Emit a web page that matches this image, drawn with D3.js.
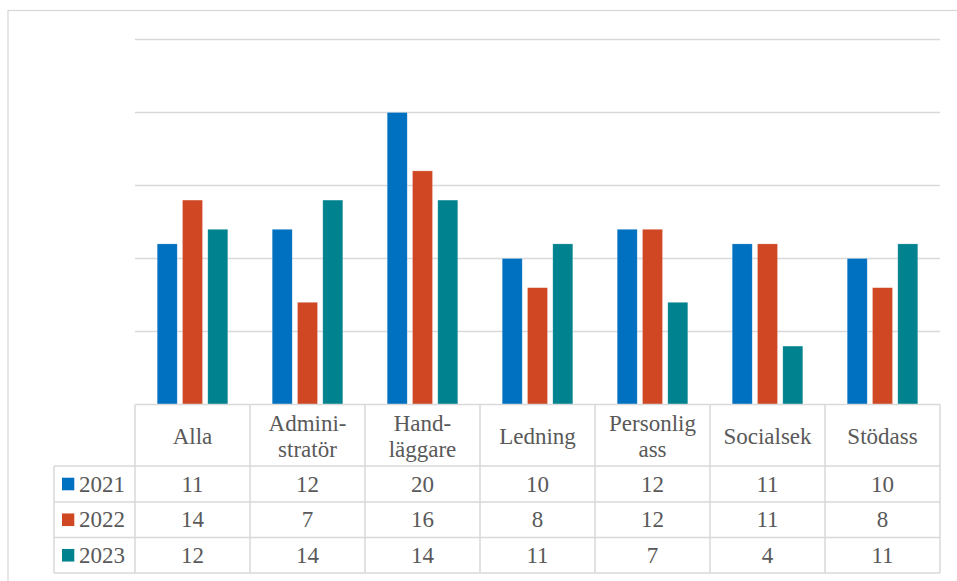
<!DOCTYPE html>
<html>
<head>
<meta charset="utf-8">
<script src="https://cdn.jsdelivr.net/npm/d3@7/dist/d3.min.js"></script>
<style>
  html, body { margin: 0; padding: 0; background: #fff; }
  svg { display: block; }
  svg text { font-family: "Liberation Serif", "DejaVu Serif", serif; }
</style>
</head>
<body>
<svg id="chart" width="957" height="581"></svg>
<script>
// Categories as shown in the data table header (line-broken labels)
const categories = ["Alla", "Administratör", "Handläggare", "Ledning", "Personlig ass", "Socialsek", "Stödass"];
const categoryLines = [["Alla"], ["Admini-", "stratör"], ["Hand-", "läggare"], ["Ledning"], ["Personlig", "ass"], ["Socialsek"], ["Stödass"]];
const seriesNames = ["2021", "2022", "2023"];
const values2021 = [11, 12, 20, 10, 12, 11, 10];
const values2022 = [14, 7, 16, 8, 12, 11, 8];
const values2023 = [12, 14, 14, 11, 7, 4, 11];
const yTicks = [0, 5, 10, 15, 20, 25];
const colors = ["#0070c0", "#d04823", "#00838f"];

const seriesValues = [values2021, values2022, values2023];
const svg = d3.select("#chart");
const textColor = "#595959";
const lineColor = "#d9d9d9";

// Outer chart frame
svg.append("rect")
  .attr("x", 8).attr("y", 10.5)
  .attr("width", 1000).attr("height", 700)
  .attr("fill", "none").attr("stroke", lineColor).attr("stroke-width", 1.3);

const plotLeft = 135, plotRight = 940;
const y = d3.scaleLinear().domain([0, 25]).range([404.5, 39.5]);
const x = d3.scaleBand().domain(categories).range([plotLeft, plotRight]).paddingInner(0).paddingOuter(0);
const xs = d3.scaleBand().domain(seriesNames).range([0, x.bandwidth()]).paddingInner(0.21).paddingOuter(0.878);

// Horizontal gridlines
svg.append("g").selectAll("line")
  .data(yTicks.filter(t => t > 0))
  .join("line")
  .attr("x1", plotLeft).attr("x2", plotRight)
  .attr("y1", d => y(d)).attr("y2", d => y(d))
  .attr("stroke", lineColor).attr("stroke-width", 1.3);

// Bars
const groups = svg.append("g").selectAll("g")
  .data(categories)
  .join("g")
  .attr("transform", d => `translate(${x(d)},0)`);

groups.selectAll("rect")
  .data((d, i) => seriesNames.map((s, j) => ({ s, j, v: seriesValues[j][i] })))
  .join("rect")
  .attr("x", d => xs(d.s))
  .attr("width", xs.bandwidth())
  .attr("y", d => y(d.v))
  .attr("height", d => y(0) - y(d.v))
  .attr("fill", d => colors[d.j])
  .attr("stroke", "#ffffff").attr("stroke-opacity", 0.35).attr("stroke-width", 0.6);

// Data table
const rowEdges = [404.5, 466, 502, 537.5, 573];
const legendLeft = 54;
const table = svg.append("g").attr("stroke", lineColor).attr("stroke-width", 1.5).attr("fill", "none");

// Horizontal table lines
table.append("line").attr("x1", plotLeft).attr("x2", plotRight).attr("y1", rowEdges[0]).attr("y2", rowEdges[0]);
rowEdges.slice(1).forEach(yy => {
  table.append("line").attr("x1", legendLeft).attr("x2", plotRight).attr("y1", yy).attr("y2", yy);
});
// Vertical table lines
categories.forEach(c => {
  table.append("line").attr("x1", x(c)).attr("x2", x(c)).attr("y1", rowEdges[0]).attr("y2", rowEdges[4]);
});
table.append("line").attr("x1", plotRight).attr("x2", plotRight).attr("y1", rowEdges[0]).attr("y2", rowEdges[4]);
table.append("line").attr("x1", legendLeft).attr("x2", legendLeft).attr("y1", rowEdges[1]).attr("y2", rowEdges[4]);

const fontSize = 23;
const txt = svg.append("g")
  .attr("font-size", fontSize)
  .attr("fill", textColor).attr("text-anchor", "middle");

// Header labels
categoryLines.forEach((lines, i) => {
  const cx = x(categories[i]) + x.bandwidth() / 2;
  const baseY = 444;
  const lh = 26;
  const t = txt.append("text").attr("x", cx);
  lines.forEach((ln, k) => {
    t.append("tspan")
      .attr("x", cx)
      .attr("y", baseY + (k - (lines.length - 1) / 2) * lh)
      .text(ln);
  });
});

// Value rows with legend keys
seriesNames.forEach((s, j) => {
  const rowMid = (rowEdges[j + 1] + rowEdges[j + 2]) / 2;
  svg.append("rect")
    .attr("x", 62).attr("y", rowMid - 6.3)
    .attr("width", 12.3).attr("height", 12.6)
    .attr("fill", colors[j]);
  svg.append("text")
    .attr("x", 79).attr("y", rowMid + 7.6)
    .attr("font-size", fontSize)
    .attr("fill", textColor)
    .text(s);
  categories.forEach((c, i) => {
    txt.append("text")
      .attr("x", x(c) + x.bandwidth() / 2)
      .attr("y", rowMid + 7.6)
      .text(seriesValues[j][i]);
  });
});
</script>
</body>
</html>
